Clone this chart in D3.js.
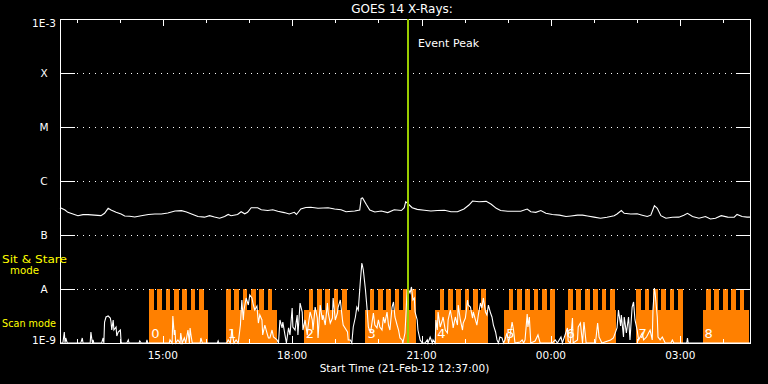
<!DOCTYPE html>
<html><head><meta charset="utf-8">
<script src="https://cdn.jsdelivr.net/npm/d3@7"></script>
<style>html,body{margin:0;padding:0;background:#000;} svg{display:block;}</style>
</head><body>
<svg id="chart" width="768" height="384"></svg>
<script>
// ---------- data ----------
const startTime = Date.UTC(2012, 1, 21, 12, 37);   // 21-Feb-12 12:37:00 UT
const spanMinutes = 960;
const titleText = "GOES 14 X-Rays:";
const xAxisTitle = "Start Time (21-Feb-12 12:37:00)";
const yTickValues = [1e-9, 1e-8, 1e-7, 1e-6, 1e-5, 1e-4, 1e-3];
const yTickLabels = ["1E-9", "A", "B", "C", "M", "X", "1E-3"];
const xTickLabels = ["15:00", "18:00", "21:00", "00:00", "03:00"];
const eventPeakMinute = 484;
const eventLabel = "Event Peak";

// long channel (1-8 A), [minutes after start, W/m^2]
const longChannel = [[0,3.2e-7],[2,3.12e-7],[7,2.90e-7],[11,2.63e-7],[18,2.45e-7],[25,2.28e-7],[32,2.38e-7],[39,2.38e-7],[48,2.33e-7],[57,2.28e-7],[62,2.52e-7],[67,3.12e-7],[71,2.90e-7],[78,2.63e-7],[85,2.45e-7],[90,2.25e-7],[97,2.22e-7],[104,2.15e-7],[113,2.28e-7],[123,2.40e-7],[132,2.45e-7],[141,2.45e-7],[150,2.56e-7],[160,2.78e-7],[169,2.83e-7],[176,2.67e-7],[183,2.45e-7],[192,2.20e-7],[201,2.14e-7],[208,2.28e-7],[215,2.15e-7],[222,2.04e-7],[229,2.20e-7],[234,2.40e-7],[238,2.28e-7],[247,2.40e-7],[252,2.70e-7],[257,2.47e-7],[261,2.63e-7],[266,3.20e-7],[275,3.20e-7],[280,2.94e-7],[289,2.84e-7],[296,2.94e-7],[303,2.75e-7],[312,2.60e-7],[319,2.45e-7],[326,2.63e-7],[329,2.40e-7],[335,3.03e-7],[342,3.24e-7],[349,3.27e-7],[359,3.12e-7],[373,3.20e-7],[382,3.03e-7],[391,2.94e-7],[398,2.70e-7],[410,2.78e-7],[417,2.90e-7],[419,4.78e-7],[421,4.87e-7],[426,3.70e-7],[431,2.90e-7],[438,2.67e-7],[447,2.78e-7],[456,2.60e-7],[465,2.94e-7],[475,2.84e-7],[479,3.20e-7],[481,4.14e-7],[486,3.59e-7],[490,3.20e-7],[497,2.98e-7],[507,2.87e-7],[516,2.78e-7],[525,2.84e-7],[535,2.87e-7],[544,2.70e-7],[553,2.70e-7],[562,3.03e-7],[569,3.59e-7],[574,4.26e-7],[583,4.14e-7],[593,4.20e-7],[600,3.70e-7],[607,3.12e-7],[613,2.84e-7],[623,2.75e-7],[632,2.75e-7],[641,2.75e-7],[650,3.03e-7],[655,2.70e-7],[662,2.63e-7],[669,2.84e-7],[676,2.52e-7],[685,2.40e-7],[695,2.33e-7],[704,2.20e-7],[711,2.25e-7],[720,2.33e-7],[727,2.33e-7],[734,2.25e-7],[743,2.14e-7],[752,2.04e-7],[761,2.13e-7],[771,2.28e-7],[775,2.45e-7],[781,2.84e-7],[785,2.52e-7],[794,2.45e-7],[803,2.47e-7],[810,2.33e-7],[817,2.20e-7],[822,2.33e-7],[827,3.49e-7],[831,3.12e-7],[836,2.28e-7],[843,2.04e-7],[852,2.13e-7],[861,2.14e-7],[868,2.33e-7],[873,2.52e-7],[880,2.20e-7],[889,2.04e-7],[898,2.20e-7],[905,1.98e-7],[912,2.04e-7],[920,2.28e-7],[929,2.14e-7],[938,2.13e-7],[942,2.40e-7],[949,2.20e-7],[956,2.14e-7],[960,2.14e-7]];

// short channel (0.5-4 A), [minutes after start, W/m^2]
const shortChannel = [[0,1e-9],[4,1e-9],[6,1.6e-9],[7,1e-9],[8,1.24e-9],[10,1e-9],[29,1e-9],[31,1.24e-9],[32,1e-9],[42,1e-9],[43,1.6e-9],[45,1e-9],[46,1.14e-9],[47,1e-9],[58,1e-9],[60,1.24e-9],[61,1e-9],[62,2.45e-9],[64,3.03e-9],[67,3.16e-9],[70,2.9e-9],[71,2.45e-9],[72,1.74e-9],[74,2.67e-9],[75,1.74e-9],[78,1.98e-9],[79,1.35e-9],[81,1.6e-9],[84,1.74e-9],[85,1.04e-9],[86,1e-9],[93,1e-9],[95,1.14e-9],[96,1e-9],[110,1e-9],[111,1.09e-9],[113,1e-9],[120,1e-9],[121,1.14e-9],[122,1e-9],[152,1e-9],[153,1.14e-9],[156,1e-9],[157,3.16e-9],[159,1.41e-9],[160,1.74e-9],[161,1e-9],[164,1.14e-9],[167,1e-9],[168,1.53e-9],[170,1e-9],[173,1.24e-9],[175,1e-9],[178,1.74e-9],[180,1e-9],[181,1.9e-9],[182,1.47e-9],[184,1e-9],[195,1e-9],[196,1.24e-9],[198,1e-9],[219,1e-9],[220,1.09e-9],[221,1e-9],[232,1e-9],[234,1.14e-9],[237,1e-9],[239,1.74e-9],[242,1e-9],[245,1.14e-9],[248,1e-9],[251,2.15e-9],[253,6.25e-9],[255,2.67e-9],[256,4.08e-9],[259,6.81e-9],[262,5.05e-9],[264,7.74e-9],[267,6.81e-9],[269,5.05e-9],[271,4.08e-9],[274,4.84e-9],[276,2.34e-9],[278,3.3e-9],[281,2.67e-9],[282,1.41e-9],[285,2.15e-9],[288,1.53e-9],[290,1.24e-9],[292,1.24e-9],[295,1.74e-9],[297,1.29e-9],[302,1.14e-9],[304,1e-9],[306,2.67e-9],[309,1.9e-9],[310,2.45e-9],[313,1.41e-9],[315,1e-9],[318,1.9e-9],[320,1.41e-9],[323,4.45e-9],[324,1.98e-9],[327,1.74e-9],[330,3.3e-9],[331,1.41e-9],[334,5.5e-9],[337,3.75e-9],[338,1.74e-9],[341,2.67e-9],[344,1.41e-9],[345,1.98e-9],[348,3.75e-9],[351,2.67e-9],[352,1.74e-9],[355,4.64e-9],[358,2.9e-9],[359,1.24e-9],[362,5.05e-9],[365,2.67e-9],[366,3.3e-9],[369,2.15e-9],[372,5.5e-9],[373,3.75e-9],[376,2.34e-9],[379,2.9e-9],[380,6.81e-9],[383,2.67e-9],[386,3.59e-9],[387,4.64e-9],[390,6.25e-9],[393,2.67e-9],[394,2.15e-9],[400,1.6e-9],[401,1.14e-9],[404,1.14e-9],[406,1e-9],[408,1.98e-9],[411,3.03e-9],[413,4.64e-9],[415,4.08e-9],[418,1.47e-8],[420,3.03e-8],[422,2.25e-8],[425,9.6e-9],[427,4.64e-9],[429,1.98e-9],[432,1.53e-9],[434,2.34e-9],[436,3.59e-9],[438,2.15e-9],[441,1.9e-9],[443,2.67e-9],[445,1.98e-9],[448,1.74e-9],[450,3.03e-9],[452,2.34e-9],[455,3.75e-9],[457,2.15e-9],[459,1.74e-9],[462,4.64e-9],[464,5.74e-9],[466,3.03e-9],[469,2.15e-9],[471,1.74e-9],[473,1.24e-9],[476,1.14e-9],[477,1e-9],[480,1.53e-9],[483,9.6e-9],[484,1.04e-8],[487,8.43e-9],[489,1.09e-8],[491,6.25e-9],[493,6.81e-9],[494,3.75e-9],[497,2.67e-9],[498,1.74e-9],[501,1.14e-9],[504,1e-9],[508,1e-9],[511,1.14e-9],[512,1e-9],[515,1.29e-9],[518,1e-9],[519,1.14e-9],[522,1e-9],[523,2.67e-9],[525,1.74e-9],[526,3.75e-9],[529,1.98e-9],[532,2.67e-9],[533,3.03e-9],[536,1.74e-9],[539,1.53e-9],[540,2.67e-9],[543,4.08e-9],[546,2.45e-9],[547,1.9e-9],[550,3.03e-9],[553,2.15e-9],[554,5.05e-9],[557,2.67e-9],[560,1.74e-9],[561,2.34e-9],[564,2.9e-9],[567,6.25e-9],[568,5.05e-9],[571,4.64e-9],[574,2.9e-9],[575,3.75e-9],[578,2.67e-9],[580,2.15e-9],[582,3.3e-9],[585,5.5e-9],[587,4.45e-9],[589,6.81e-9],[592,3.75e-9],[594,3.3e-9],[596,5.05e-9],[599,3.59e-9],[601,3.03e-9],[603,2.15e-9],[606,1.6e-9],[608,1.14e-9],[610,1e-9],[612,1.29e-9],[615,1.24e-9],[617,1e-9],[619,1.14e-9],[622,1.53e-9],[624,1e-9],[626,1.35e-9],[629,2.45e-9],[631,1.74e-9],[633,1e-9],[640,1.04e-9],[643,1.14e-9],[645,1e-9],[647,1.14e-9],[650,3.44e-9],[651,1.98e-9],[653,3.03e-9],[655,1e-9],[661,1.09e-9],[665,1.41e-9],[668,1e-9],[685,1e-9],[689,1.14e-9],[692,1e-9],[697,1.29e-9],[699,1e-9],[706,1.9e-9],[707,1.09e-9],[710,1e-9],[713,2.9e-9],[714,1e-9],[720,1.14e-9],[721,1.98e-9],[724,2.34e-9],[727,1e-9],[729,2.45e-9],[732,1e-9],[745,1e-9],[748,2.34e-9],[750,1.29e-9],[754,1e-9],[766,1.14e-9],[770,1.24e-9],[775,1.9e-9],[777,4.08e-9],[780,2.06e-9],[781,3.3e-9],[784,1.29e-9],[785,3.03e-9],[788,1.53e-9],[791,3.03e-9],[793,1.14e-9],[796,4.64e-9],[798,5.74e-9],[800,2.67e-9],[803,1.74e-9],[805,1.14e-9],[810,1.53e-9],[812,1.14e-9],[816,1.29e-9],[821,1.74e-9],[824,1.14e-9],[825,4.08e-9],[827,1.04e-8],[828,8.43e-9],[831,3.03e-9],[832,1.29e-9],[835,1.14e-9],[838,1.29e-9],[842,1e-9],[850,1e-9],[852,1.14e-9],[854,1e-9],[872,1e-9],[873,1.24e-9],[874,1e-9],[960,1e-9]];

// observing-mode blocks (minutes after start)
const blockNames      = ["0","1","2","3","4","5","6","7","8"];
const blockStart      = [124, 231, 339, 425, 522, 618, 702, 802, 894];
const blockEnd        = [206, 302, 403, 495, 595, 689, 773, 867, 959];
const blockFirstTooth = [124, 231, 346, 431, 528, 624, 707, 802, 899];
const blockTeeth      = [7, 6, 5, 6, 6, 6, 6, 6, 5];
const toothPeriod = 11.6, toothWidth = 6.5;      // minutes
const scanLevel = 4.1e-9, stareLevel = 1e-8;      // indicator heights
const modeLabels = ["Sit & Stare", "mode", "Scan mode"];

// ---------- drawing ----------
const W = 768, H = 384;
const L = 60, R = 750, T = 19, B = 343;
const svg = d3.select("#chart");
svg.append("rect").attr("width", W).attr("height", H).attr("fill", "#000");

const t = m => new Date(startTime + m * 60000);
const x = d3.scaleUtc().domain([t(0), t(spanMinutes)]).range([L, R]);
const y = d3.scaleLog().domain([1e-9, 1e-3]).range([B, T]);
const FONT = "DejaVu Sans, Verdana, sans-serif";
const ORANGE = "#ff8000";

// orange mode blocks
const gBlocks = svg.append("g").attr("shape-rendering", "crispEdges");
blockNames.forEach((name, i) => {
  gBlocks.append("rect")
    .attr("x", x(t(blockStart[i]))).attr("y", y(scanLevel))
    .attr("width", x(t(blockEnd[i])) - x(t(blockStart[i])))
    .attr("height", B - y(scanLevel)).attr("fill", ORANGE);
  for (let k = 0; k < blockTeeth[i]; k++) {
    const s = blockFirstTooth[i] + k * toothPeriod;
    const e = Math.min(s + toothWidth, blockEnd[i]);
    gBlocks.append("rect")
      .attr("x", x(t(s))).attr("y", y(stareLevel))
      .attr("width", x(t(e)) - x(t(s)))
      .attr("height", B - y(stareLevel)).attr("fill", ORANGE);
  }
});

// dotted grid lines at flare class levels
const gGrid = svg.append("g").attr("shape-rendering", "crispEdges");
yTickValues.slice(1, -1).forEach(v => {
  const yy = Math.round(y(v)) + 0.5;
  gGrid.append("line").attr("x1", 77).attr("x2", 735).attr("y1", yy).attr("y2", yy)
    .attr("stroke", "#fff").attr("stroke-width", 1).attr("stroke-dasharray", "1,5");
});

// block numbers
svg.append("g").selectAll("text").data(blockNames).join("text")
  .attr("x", (d, i) => x(t(blockStart[i])) + 2).attr("y", 338)
  .attr("fill", "#fff").attr("font-family", FONT).attr("font-size", 13)
  .text(d => d);

// data lines
const line = d3.line()
  .x(d => x(t(d[0])))
  .y(d => y(Math.max(d[1], 1e-9)));
svg.append("path").datum(shortChannel).attr("d", line)
  .attr("fill", "none").attr("stroke", "#fff").attr("stroke-width", 1.1);
svg.append("path").datum(longChannel).attr("d", line)
  .attr("fill", "none").attr("stroke", "#fff").attr("stroke-width", 1.1);

// frame and ticks
const gAx = svg.append("g").attr("shape-rendering", "crispEdges").attr("stroke", "#fff");
gAx.append("rect").attr("x", L + 0.5).attr("y", T + 0.5).attr("width", R - L).attr("height", B - T)
  .attr("fill", "none").attr("stroke-width", 1);
yTickValues.forEach(v => {
  const yy = Math.round(y(v)) + 0.5;
  gAx.append("line").attr("x1", L).attr("x2", L + 15).attr("y1", yy).attr("y2", yy);
  gAx.append("line").attr("x1", R - 14).attr("x2", R).attr("y1", yy).attr("y2", yy);
});
const hourTicks = d3.utcHour.range(t(0), t(spanMinutes));
hourTicks.forEach(d => {
  const xx = Math.round(x(d)) + 0.5;
  const len = d.getUTCHours() % 3 === 0 ? 7 : 4;
  gAx.append("line").attr("x1", xx).attr("x2", xx).attr("y1", T).attr("y2", T + len);
  gAx.append("line").attr("x1", xx).attr("x2", xx).attr("y1", B).attr("y2", B - len);
});

// event peak line
svg.append("line")
  .attr("x1", x(t(eventPeakMinute))).attr("x2", x(t(eventPeakMinute)))
  .attr("y1", T).attr("y2", B)
  .attr("stroke", "#99cc00").attr("stroke-width", 2).attr("shape-rendering", "crispEdges");
svg.append("text").attr("x", x(t(eventPeakMinute)) + 10).attr("y", 46.7)
  .attr("fill", "#fff").attr("font-family", FONT).attr("font-size", 11).text(eventLabel);

// y labels
svg.append("g").selectAll("text").data(yTickValues).join("text")
  .attr("x", 44)
  .attr("y", (v, i) => i === 0 ? y(v) + 1 : (i === yTickValues.length - 1 ? y(v) + 7.7 : y(v) + 4))
  .attr("text-anchor", "middle").attr("fill", "#fff")
  .attr("font-family", FONT).attr("font-size", 10.5)
  .text((v, i) => yTickLabels[i]);

// x labels
const labelTicks = hourTicks.filter(d => d.getUTCHours() % 3 === 0);
svg.append("g").selectAll("text").data(labelTicks).join("text")
  .attr("x", d => x(d)).attr("y", 359)
  .attr("text-anchor", "middle").attr("fill", "#fff")
  .attr("font-family", FONT).attr("font-size", 10.5)
  .text((d, i) => xTickLabels[i]);

svg.append("text").attr("x", 404.5).attr("y", 371.7).attr("text-anchor", "middle")
  .attr("fill", "#fff").attr("font-family", FONT).attr("font-size", 10.5).text(xAxisTitle);

svg.append("text").attr("x", 402).attr("y", 13.3).attr("text-anchor", "middle")
  .attr("fill", "#fff").attr("font-family", FONT).attr("font-size", 12).text(titleText);

// mode labels (yellow)
const modePos = [[2, 262.7, 65], [10, 274.3, 29], [2, 327.3, 54]];
modeLabels.forEach((s, i) => {
  svg.append("text").attr("x", modePos[i][0]).attr("y", modePos[i][1])
    .attr("fill", "#ffff00").attr("font-family", FONT).attr("font-size", 11)
    .attr("textLength", modePos[i][2]).attr("lengthAdjust", "spacingAndGlyphs")
    .text(s);
});
</script>
</body></html>
